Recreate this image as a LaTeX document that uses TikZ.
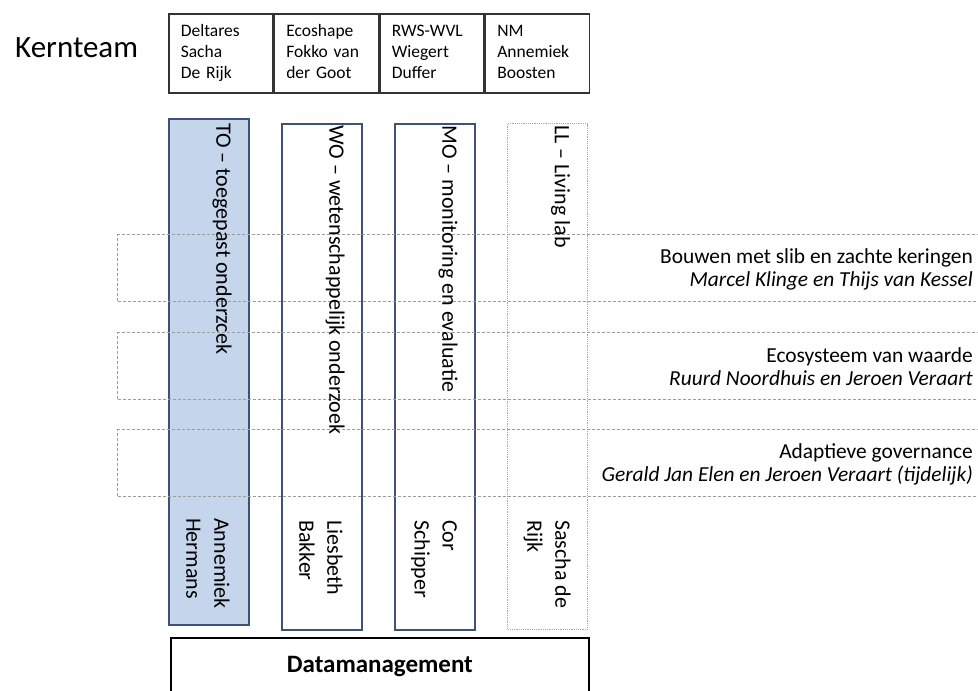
\documentclass[tikz,border=0pt]{standalone}
\usepackage{fontspec}
\setmainfont{Carlito}
\definecolor{streamline}{HTML}{3E5273}
\definecolor{tofill}{HTML}{C4D5EC}
\definecolor{themeline}{HTML}{9C9C9C}

\begin{document}
\begin{tikzpicture}[x=1pt, y=-1pt,
    partner/.style={draw=black!80, line width=1.6pt, anchor=north west,
      minimum width=104pt, minimum height=79pt, text width=80pt,
      inner xsep=12pt, align=left, font=\fontsize{17.5}{21}\selectfont},
    stream/.style={draw=streamline, line width=2pt, anchor=north west,
      minimum width=80pt, minimum height=506pt, inner sep=0pt},
    streamtext/.style={rotate=-90, anchor=west, inner sep=0pt, align=left,
      font=\fontsize{22}{28}\selectfont},
    theme/.style={draw=themeline, line width=1pt, dash pattern=on 3pt off 2pt,
      anchor=north west, minimum width=865pt, minimum height=67pt, inner sep=0pt},
    themetext/.style={anchor=east, inner sep=0pt, align=right,
      font=\fontsize{21.4}{23}\selectfont}]
  \useasboundingbox (0, 0) rectangle (978, 691);

  % Core team
  \node [anchor=base west, inner sep=0pt, font=\fontsize{31}{36}\selectfont]
        (kern) at (15, 57) {Kernteam};
  \foreach \i/\org/\first/\last in {0/Deltares/Sacha/De Rijk,
      1/Ecoshape/Fokko van/der Goot, 2/RWS-WVL/Wiegert/Duffer,
      3/NM/Annemiek/Boosten} {
    \node [partner] (p\i) at ({168+105.5*\i}, 13) {\strut\org\\\first\\\last\strut};
  }

  % Research lines
  \node [stream, fill=tofill] (to) at (168, 118) {};
  \node [stream] (wo) at (281, 123) {};
  \node [stream] (mo) at (394, 123) {};
  \node [stream, draw=gray!70, line width=1.2pt, densely dotted] (ll) at (507, 123) {};

  % Themes
  \foreach \i/\y/\title/\who in {
      1/234/Bouwen met slib en zachte keringen/Marcel Klinge en Thijs van Kessel,
      2/332/Ecosysteem van waarde/Ruurd Noordhuis en Jeroen Veraart,
      3/429/Adaptieve governance/Gerald Jan Elen en Jeroen Veraart (tijdelijk)} {
    \node [theme] (t\i) at (117, \y) {};
    \node [themetext] (tt\i) at ([xshift=-10pt, yshift=-1pt]t\i.east) {\title\\\textit{\who}};
  }

  % Line titles and leaders
  \node [streamtext] (to-title) at ([xshift=13pt, yshift=-5pt]to.north) {TO -- toegepast onderzcek};
  \node [streamtext] (wo-title) at ([xshift=13pt, yshift=-2pt]wo.north) {WO -- wetenschappelijk onderzoek};
  \node [streamtext] (mo-title) at ([xshift=13pt, yshift=-2pt]mo.north) {MO -- monitoring en evaluatie};
  \node [streamtext] (ll-title) at ([xshift=13pt, yshift=-2pt]ll.north) {LL -- Living lab};
  \node [streamtext] (to-lead) at (208, 518) {Annemiek\\Hermans};
  \node [streamtext] (wo-lead) at (321, 520) {Liesbeth\\Bakker};
  \node [streamtext] (mo-lead) at (434, 520) {Cor\\Schipper};
  \node [streamtext] (ll-lead) at (547, 520) {Sascha de\\Rijk};

  % Data
  \node [draw=black, line width=1.8pt, anchor=north west, minimum width=418pt,
         minimum height=58pt, inner sep=0pt,
         font=\bfseries\fontsize{25}{30}\selectfont] (data) at (170, 637) {Datamanagement};
\end{tikzpicture}
\end{document}
